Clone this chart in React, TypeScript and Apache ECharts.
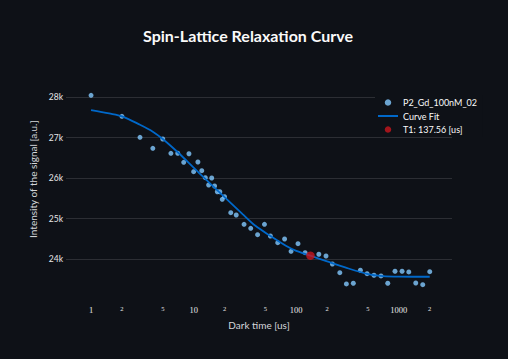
import React, { useEffect, useRef } from "react";
import * as echarts from "echarts";

const times = [1, 2, 3, 4, 5, 6, 7, 8, 9, 10, 11, 12, 13, 14, 15, 16, 17, 18, 19, 20, 23, 26, 31, 36, 42, 49, 56, 66, 77, 89, 104, 122, 166, 195, 225, 266, 308, 360, 422, 490, 573, 670, 780, 918, 1075, 1250, 1462, 1710, 2000];
const signal = [28048, 27529, 27010, 26738, 26968, 26614, 26615, 26391, 26604, 26159, 26399, 26184, 26011, 25830, 26003, 25805, 25664, 25664, 25476, 25541, 25145, 25088, 24858, 24759, 24601, 24858, 24569, 24403, 24495, 24190, 24378, 24156, 24116, 24074, 23876, 23661, 23382, 23399, 23721, 23636, 23597, 23580, 23399, 23696, 23696, 23679, 23406, 23364, 23686];

const fitTimes = [1, 1.5, 2, 3, 4, 5, 7, 10, 13, 18, 20, 30, 40, 56, 80, 100, 137.56, 200, 300, 500, 700, 1000, 2000];
const fitSignal = [27685, 27600, 27530, 27320, 27150, 26968, 26640, 26260, 25980, 25640, 25530, 25110, 24820, 24569, 24320, 24200, 24082, 23940, 23790, 23625, 23575, 23562, 23560];

const t1Time = 137.56;
const t1Signal = 24082;

const xMajorTicks = [1, 10, 100, 1000];
const xTickValues = [1, 2, 5, 10, 20, 50, 100, 200, 500, 1000, 2000];
const yTickStep = 1000;

const seriesNames = ["P2_Gd_100nM_02", "Curve Fit", "T1: 137.56 [us]"];

export default function App() {
  const ref = useRef<HTMLDivElement>(null);
  useEffect(() => {
    if (!ref.current) return;
    const chart = echarts.init(ref.current, null, { renderer: "svg" });
    const sans = "Lato, 'Open Sans', sans-serif";
    const option = {
      animation: false,
      backgroundColor: "#0e1117",
      title: {
        text: "Spin-Lattice Relaxation Curve",
        left: 248,
        textAlign: "center",
        top: 27,
        padding: 0,
        textStyle: { color: "#fafafa", fontSize: 16, fontWeight: "bold", fontFamily: sans },
      },
      legend: {
        orient: "vertical",
        left: 375,
        top: 95,
        padding: [3, 6, 3, 3],
        itemGap: 4.5,
        itemWidth: 20,
        itemHeight: 6.5,
        backgroundColor: "#0e1117",
        data: [
          { name: seriesNames[0] },
          { name: seriesNames[1], icon: "path://M0,0H20V2H0Z" },
          { name: seriesNames[2] },
        ],
        textStyle: { color: "#fafafa", fontSize: 9, fontFamily: sans },
      },
      grid: { left: 66, right: 56, top: 59, bottom: 59.6 },
      xAxis: {
        type: "value",
        min: Math.log10(0.57),
        max: Math.log10(3297),
        name: "Dark time [us]",
        nameLocation: "middle",
        nameGap: 21,
        nameTextStyle: { color: "#d5d7db", fontSize: 10, fontFamily: sans },
        axisLine: { show: false },
        axisTick: { show: false },
        splitLine: { show: false },
        axisLabel: {
          customValues: xTickValues.map((t) => Math.log10(t)),
          margin: 6,
          formatter: (v: number) => {
            const t = Math.round(Math.pow(10, v));
            return xMajorTicks.includes(t) ? `{maj|${t}}` : `{mn|${String(t)[0]}}`;
          },
          rich: {
            maj: { fontSize: 8.5, color: "#e8e8e8", fontFamily: "'Liberation Serif', serif" },
            mn: { fontSize: 6.5, color: "#e8e8e8", fontFamily: "'Liberation Serif', serif" },
          },
        },
      },
      yAxis: {
        type: "value",
        min: 23000,
        max: 28947,
        interval: yTickStep,
        name: "Intensity of the signal [a.u.]",
        nameLocation: "middle",
        nameGap: 26,
        nameTextStyle: { color: "#d5d7db", fontSize: 10, fontFamily: sans },
        axisLine: { show: false },
        axisTick: { show: false },
        splitLine: {
          show: true,
          showMinLine: false,
          showMaxLine: false,
          lineStyle: { color: "#2c2e34", width: 1 },
        },
        axisLabel: {
          showMinLabel: false,
          showMaxLabel: false,
          margin: 3,
          color: "#e8e8e8",
          fontSize: 8.5,
          fontFamily: sans,
          formatter: (v: number) => `${v / 1000}k`,
        },
      },
      series: [
        {
          name: seriesNames[0],
          type: "scatter",
          symbol: "circle",
          symbolSize: 5,
          itemStyle: { color: "#83c9ff" },
          data: times.map((t, i) => [Math.log10(t), signal[i]]),
          z: 2,
        },
        {
          name: seriesNames[1],
          type: "line",
          symbol: "none",
          smooth: 0.3,
          lineStyle: { color: "#0068c9", width: 1.8 },
          itemStyle: { color: "#0068c9" },
          data: fitTimes.map((t, i) => [Math.log10(t), fitSignal[i]]),
          z: 3,
        },
        {
          name: seriesNames[2],
          type: "scatter",
          symbol: "circle",
          symbolSize: 8.5,
          itemStyle: { color: "#c8161e" },
          data: [[Math.log10(t1Time), t1Signal]],
          z: 4,
        },
      ],
    };
    chart.setOption(option as any);
    return () => chart.dispose();
  }, []);
  return <div ref={ref} style={{ position: "absolute", left: 0, top: 0, width: 508, height: 359 }} />;
}
